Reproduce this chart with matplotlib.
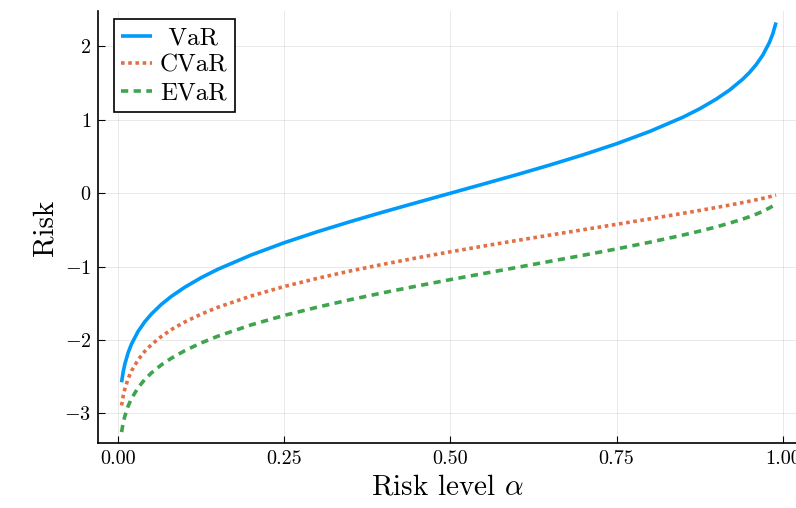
import numpy as np
import matplotlib
matplotlib.use("Agg")
import matplotlib.pyplot as plt

# values
alpha = [0.005, 0.0075, 0.01, 0.015, 0.02, 0.03, 0.04, 0.05, 0.065, 0.08,
         0.1, 0.125, 0.15, 0.2, 0.25, 0.3, 0.35, 0.4, 0.45, 0.5,
         0.55, 0.6, 0.65, 0.7, 0.75, 0.8, 0.85, 0.875, 0.9, 0.92,
         0.94, 0.95, 0.96, 0.97, 0.98, 0.985, 0.99]

var = [-2.576, -2.432, -2.326, -2.170, -2.054, -1.881, -1.751, -1.645, -1.514, -1.405,
       -1.282, -1.150, -1.036, -0.842, -0.674, -0.524, -0.385, -0.253, -0.126, 0.0,
       0.126, 0.253, 0.385, 0.524, 0.674, 0.842, 1.036, 1.150, 1.282, 1.405,
       1.555, 1.645, 1.751, 1.881, 2.054, 2.170, 2.326]

cvar = [-2.892, -2.761, -2.665, -2.525, -2.421, -2.268, -2.154, -2.063, -1.951, -1.858,
        -1.755, -1.647, -1.554, -1.400, -1.271, -1.159, -1.058, -0.966, -0.880, -0.798,
        -0.720, -0.644, -0.570, -0.497, -0.424, -0.350, -0.274, -0.235, -0.195, -0.162,
        -0.127, -0.109, -0.090, -0.070, -0.049, -0.038, -0.027]

evar = [-3.255, -3.128, -3.035, -2.898, -2.797, -2.648, -2.537, -2.448, -2.338, -2.248,
        -2.146, -2.039, -1.948, -1.794, -1.665, -1.552, -1.449, -1.354, -1.264, -1.177,
        -1.094, -1.011, -0.928, -0.845, -0.759, -0.668, -0.570, -0.517, -0.459, -0.408,
        -0.352, -0.320, -0.286, -0.247, -0.201, -0.174, -0.142]

xticks = [0.0, 0.25, 0.5, 0.75, 1.0]
xticklabels = ['0.00', '0.25', '0.50', '0.75', '1.00']
yticks = [-3, -2, -1, 0, 1, 2]
yticklabels = ['$-3$', '$-2$', '$-1$', '$0$', '$1$', '$2$']

plt.rcParams['font.family'] = 'serif'
plt.rcParams['font.serif'] = ['cmr10']
plt.rcParams['mathtext.fontset'] = 'cm'
plt.rcParams['axes.formatter.use_mathtext'] = True

fig = plt.figure(figsize=(7.96, 5.08), dpi=100)
ax = fig.add_axes([0.1235, 0.127, 0.8765, 0.851])

ax.plot(alpha, var, color='#009AFA', lw=2.6, label=' VaR', solid_capstyle='butt')
ax.plot(alpha, cvar, color='#E36F47', lw=2.6, ls=(0, (1, 1)), label='CVaR')
ax.plot(alpha, evar, color='#3EA44E', lw=2.6, ls=(0, (2, 1.5)), label='EVaR')

ax.set_xlim(-0.03, 1.02)
ax.set_ylim(-3.41, 2.48)
ax.set_xticks(xticks)
ax.set_xticklabels(xticklabels)
ax.set_yticks(yticks)
ax.set_yticklabels(yticklabels)
ax.tick_params(direction='in', length=5, width=0.8, labelsize=14.5, pad=5)
ax.grid(True, color='black', alpha=0.1, lw=0.6)
for s in ['top', 'right']:
    ax.spines[s].set_visible(False)
for s in ['left', 'bottom']:
    ax.spines[s].set_linewidth(1.2)

ax.set_xlabel(r'Risk level $\alpha$', fontsize=21)
ax.set_ylabel('Risk', fontsize=21)

leg = ax.legend(loc='upper left', bbox_to_anchor=(0.022, 0.981), fontsize=18,
                fancybox=False, framealpha=1, edgecolor='black',
                handlelength=1.25, handletextpad=0.3, borderpad=0.3,
                labelspacing=0.2, borderaxespad=0)
leg.get_frame().set_linewidth(1.2)

fig.savefig('out.png', dpi=100)
